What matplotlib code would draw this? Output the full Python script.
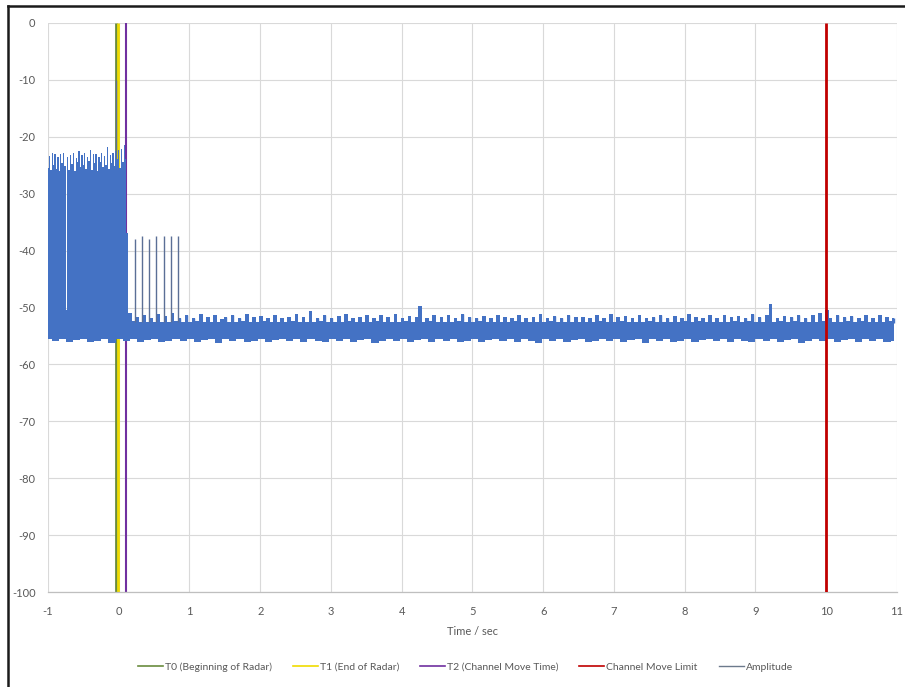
import numpy as np
import matplotlib
matplotlib.use("Agg")
import matplotlib.pyplot as plt
from matplotlib.lines import Line2D

plt.rcParams['font.family'] = ['Lato', 'DejaVu Sans']

# ---------------- data ----------------
x_ticks = [-1, 0, 1, 2, 3, 4, 5, 6, 7, 8, 9, 10, 11]
y_ticks = [0, -10, -20, -30, -40, -50, -60, -70, -80, -90, -100]

marker_names = ["T0 (Beginning of Radar)", "T1 (End of Radar)",
                "T2 (Channel Move Time)", "Channel Move Limit"]
marker_times = [-0.04, -0.015, 0.10, 10.0]
marker_colors = ["#6A8C3E", "#F0DC00", "#7030A0", "#C00000"]

# amplitude upper envelope during radar (-1.0 .. 0.10 s)
amp_top_pre = [-25.5, -23.4, -25.8, -22.9, -24.9, -23.1, -25.6, -23.5, -26.0, -23.0,
               -24.7, -22.8, -25.2, -50.5, -23.6, -25.9, -23.2, -24.8, -22.9, -26.1,
               -23.7, -24.5, -22.6, -25.4, -23.2, -24.9, -22.9, -25.6, -23.5, -24.3,
               -22.4, -25.8, -23.1, -24.7, -23.0, -26.0, -23.6, -24.4, -22.8, -25.3,
               -23.4, -24.9, -21.8, -25.7, -23.3, -24.6, -22.9, -25.1, -22.6, -24.0,
               -22.3, -25.5, -22.2, -24.4, -21.5, -24.0]

# amplitude upper envelope after radar (0.11 .. 10.96 s)
amp_top_post = [-37.0, -51.0, -52.4, -51.6, -52.8, -51.3, -52.5, -51.9, -52.9, -51.2,
                -52.6, -51.5, -52.9, -51.0, -52.3, -51.8, -53.0, -51.4, -52.7, -51.9,
                -52.4, -51.1, -53.1, -51.7, -52.5, -51.3, -52.9, -52.0, -51.6, -52.8,
                -51.4, -53.0, -51.9, -52.3, -51.2, -52.8, -51.7, -53.1, -51.5, -52.4,
                -51.8, -52.9, -51.3, -52.6, -51.9, -53.0, -51.6, -52.4, -51.1, -52.8,
                -51.7, -52.5, -50.6, -52.9, -51.8, -52.3, -51.4, -53.0, -51.9, -52.6,
                -51.5, -52.8, -51.2, -52.4, -51.8, -53.1, -51.6, -52.5, -51.3, -52.9,
                -51.9, -52.4, -51.4, -53.0, -51.7, -52.6, -51.2, -52.8, -51.8, -52.3,
                -51.5, -52.9, -51.6, -49.7, -52.7, -51.9, -52.4, -51.3, -53.0, -51.7,
                -52.5, -51.4, -52.9, -51.8, -52.3, -51.2, -52.8, -51.6, -53.1, -51.9,
                -52.4, -51.5, -52.7, -51.9, -53.0, -51.3, -52.6, -51.7, -52.9, -51.8,
                -52.3, -51.4, -52.8, -51.9, -52.5, -51.6, -53.0, -51.2, -52.7, -51.8,
                -52.4, -51.5, -52.9, -51.9, -52.6, -51.3, -52.8, -51.7, -53.1, -51.6,
                -52.5, -51.8, -52.9, -51.4, -52.3, -51.9, -52.7, -51.2, -52.8, -51.7,
                -52.4, -51.5, -53.0, -51.8, -52.6, -51.3, -52.9, -51.9, -52.4, -51.6,
                -52.8, -51.4, -52.5, -51.8, -53.0, -51.5, -52.7, -51.9, -52.3, -51.2,
                -52.8, -51.6, -52.4, -51.9, -52.9, -51.3, -52.6, -51.8, -52.5, -51.4,
                -52.9, -51.7, -52.3, -51.5, -52.8, -51.9, -52.4, -51.2, -52.7, -51.6,
                -52.5, -51.4, -49.3, -52.8, -51.8, -52.4, -51.5, -52.9, -51.7, -52.3,
                -51.4, -52.8, -51.9, -52.5, -51.3, -52.7, -51.0, -52.4, -50.4, -51.8,
                -52.6, -51.3, -52.9, -51.7, -52.4, -51.5, -52.8, -51.9, -52.3, -51.4,
                -52.7, -51.8, -52.5, -51.3, -52.9, -51.6, -52.4, -51.8]

# amplitude lower envelope (-1.0 .. 10.96 s)
amp_bottom = [-55.6, -55.9, -55.4, -56.1, -55.7, -55.5, -56.0, -55.8, -55.4, -56.2,
              -55.6, -55.9, -55.5, -56.0, -55.7, -55.4, -56.1, -55.8, -55.6, -55.9,
              -55.5, -56.0, -55.7, -55.4, -56.2, -55.6, -55.9, -55.5, -56.0, -55.8,
              -55.4, -56.1, -55.7, -55.5, -55.9, -55.6, -56.0, -55.4, -55.8, -56.1,
              -55.6, -55.9, -55.5, -56.0, -55.7, -55.4, -56.2, -55.8, -55.6, -55.9,
              -55.5, -56.0, -55.7, -55.4, -56.1, -55.6, -55.9, -55.5, -56.0, -55.8,
              -55.4, -56.1, -55.7, -55.5, -55.9, -55.6, -56.0, -55.4, -55.8, -56.2,
              -55.6, -55.9, -55.5, -56.0, -55.7, -55.4, -56.1, -55.8, -55.6, -55.9,
              -55.5, -56.0, -55.7, -55.4, -56.2, -55.6, -55.9, -55.5, -56.0, -55.8,
              -55.4, -56.1, -55.7, -55.5, -55.9, -55.6, -56.0, -55.4, -55.8, -56.1,
              -55.6, -55.9, -55.5, -56.0, -55.7, -55.4, -56.2, -55.8, -55.6, -55.9,
              -55.5, -56.0, -55.7, -55.4, -56.1, -55.6, -55.9, -55.5, -56.0, -55.8]

# solid core of the noise floor
noise_core_top = -52.7
noise_core_bottom = -55.3

# isolated amplitude spikes
spike_times = [-0.035, 0.23, 0.335, 0.435, 0.53, 0.635, 0.74, 0.84]
spike_values = [-10.0, -38.0, -37.5, -38.0, -37.5, -37.5, -37.5, -37.5]
spike_bases = [-24.0, -52.5, -52.5, -52.5, -52.5, -52.5, -52.5, -52.5]

# sample time grids
t_pre = np.linspace(-1.0, 0.10, len(amp_top_pre))
t_post = np.linspace(0.11, 10.96, len(amp_top_post))
t_bot = np.linspace(-1.0, 10.96, len(amp_bottom))

# ---------------- figure ----------------
fig = plt.figure(figsize=(9.05, 6.87), dpi=100)
ax = fig.add_axes([0.0530, 0.1378, 0.9381, 0.8292])

amp_color = "#4472C4"
text_color = "#595959"

handles = []
for name, t, c in zip(marker_names, marker_times, marker_colors):
    z = 4 if name == "Channel Move Limit" else 2
    lw = 1.5 if name.startswith("T2") else 2.0
    ax.vlines(t, -100, 0, color=c, lw=lw, zorder=z)
    handles.append(Line2D([], [], color=c, lw=1.2))
handles.append(Line2D([], [], color="#6C7A8C", lw=1.0))
labels = marker_names + ["Amplitude"]

# radar burst block
ax.fill_between(t_pre, noise_core_top, amp_top_pre, step="mid",
                color=amp_color, lw=0, zorder=3)
# noise floor core
ax.fill_between([t_pre[0], t_post[-1]], noise_core_bottom - 0.2, noise_core_top + 0.1,
                color=amp_color, lw=0, zorder=3)
# noise floor upper peaks
ax.fill_between(t_post, noise_core_top, amp_top_post, step="mid",
                color=amp_color, lw=0, zorder=3)
ax.vlines(t_post, noise_core_top, amp_top_post, color=amp_color, lw=1.0, zorder=3)
# noise floor lower edge
ax.fill_between(t_bot, noise_core_bottom, amp_bottom, step="mid",
                color=amp_color, lw=0, zorder=3)
# isolated spikes
ax.vlines(spike_times, spike_bases, spike_values, color="#5B6F96", lw=1.0, zorder=3)

ax.set_xlim(-1, 11)
ax.set_ylim(-100, 0)
ax.set_xticks(x_ticks)
ax.set_yticks(y_ticks)
ax.set_xticklabels([str(v) for v in x_ticks])
ax.set_yticklabels([str(v) for v in y_ticks])
ax.grid(True, color="#D9D9D9", lw=0.8, zorder=0)
ax.set_axisbelow(True)
for s in ["top", "right", "left"]:
    ax.spines[s].set_visible(False)
ax.spines["bottom"].set_color("#BFBFBF")
ax.spines["bottom"].set_linewidth(0.9)
ax.tick_params(length=0, labelsize=8, labelcolor=text_color)
ax.tick_params(axis="y", pad=9)
ax.tick_params(axis="x", pad=10)
ax.set_xlabel("Time / sec", fontsize=8, color=text_color, labelpad=6)

leg = fig.legend(handles, labels, loc="center", bbox_to_anchor=(0.514, 0.029),
                 ncol=5, frameon=False, fontsize=7.5, handlelength=2.4,
                 columnspacing=2.0, handletextpad=0.2)
for txt in leg.get_texts():
    txt.set_color(text_color)

# screenshot border (top and left)
fig.add_artist(Line2D([8 / 905, 1.0], [1 - 6 / 687, 1 - 6 / 687],
                      transform=fig.transFigure, color="#1A1A1A", lw=1.8))
fig.add_artist(Line2D([8 / 905, 8 / 905], [0.0, 1 - 6 / 687],
                      transform=fig.transFigure, color="#1A1A1A", lw=1.8))

fig.savefig("out.png", dpi=100, facecolor="white")
